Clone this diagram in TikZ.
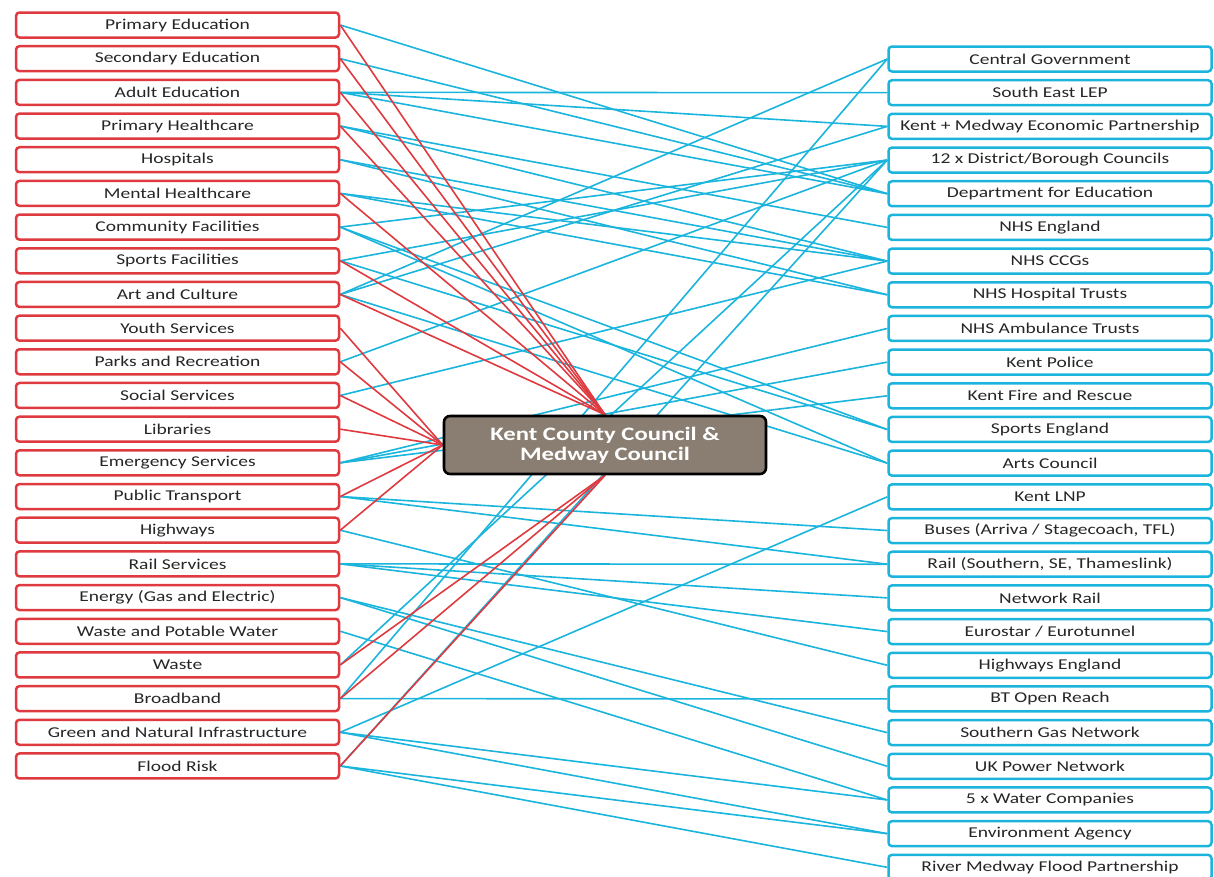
\documentclass[tikz,border=0pt]{standalone}
\usepackage{fontspec}
\setmainfont{Carlito}[FakeStretch=1.3]
\usetikzlibrary{backgrounds}

\definecolor{kccred}{HTML}{DE3A3F}
\definecolor{kccblue}{HTML}{1AB4DC}
\definecolor{kccgrey}{HTML}{8A7E72}

\tikzset{
  service/.style={draw=kccred, line width=2.5pt, rounded corners=3.5pt, fill=white,
    minimum width=323pt, minimum height=25pt, inner sep=0pt, text=black!85,
    font=\fontsize{15}{15}\selectfont},
  partner/.style={service, draw=kccblue},
  council/.style={draw=black, line width=2.6pt, rounded corners=6pt, fill=kccgrey,
    minimum width=322pt, minimum height=58pt, align=center, text=white,
    font=\bfseries\fontsize{19}{20}\selectfont},
  redlink/.style={kccred, line width=1.6pt},
  bluelink/.style={kccblue, line width=1.6pt}
}

\begin{document}
\begin{tikzpicture}[x=1pt,y=-1pt]
  \useasboundingbox (0,0) rectangle (1214,876);

  % services on the left
  \foreach \txt [count=\i] in {Primary Education, Secondary Education, Adult Education,
      Primary Healthcare, Hospitals, Mental Healthcare, Community Facilities,
      Sports Facilities, Art and Culture, Youth Services, Parks and Recreation,
      Social Services, Libraries, Emergency Services, Public Transport, Highways,
      Rail Services, Energy (Gas and Electric), Waste and Potable Water, Waste,
      Broadband, Green and Natural Infrastructure, Flood Risk}
    \node[service] (l\i) at (177.5,{25+(\i-1)*33.68}) {\txt};

  % partners on the right
  \foreach \txt [count=\j] in {Central Government, South East LEP,
      Kent + Medway Economic Partnership, 12 x District/Borough Councils,
      Department for Education, NHS England, NHS CCGs, NHS Hospital Trusts,
      NHS Ambulance Trusts, Kent Police, Kent Fire and Rescue, Sports England,
      Arts Council, Kent LNP, {Buses (Arriva / Stagecoach, TFL)},
      {Rail (Southern, SE, Thameslink)}, Network Rail, Eurostar / Eurotunnel,
      Highways England, BT Open Reach, Southern Gas Network, UK Power Network,
      5 x Water Companies, Environment Agency, River Medway Flood Partnership}
    \node[partner] (r\j) at (1050,{59+(\j-1)*33.68}) {\txt};

  \node[council] (kcc) at (605,445) {Kent County Council \&\\Medway Council};

  \begin{scope}[on background layer]
    \foreach \a/\b in {1/5, 2/5, 3/2, 3/3, 3/5, 4/6, 4/7, 5/7, 5/8, 6/7, 6/8,
        7/4, 7/12, 7/13, 8/4, 8/12, 9/1, 9/3, 9/13, 11/4, 12/7, 14/9, 14/10,
        14/11, 15/15, 15/16, 16/19, 17/16, 17/17, 17/18, 18/21, 18/22, 19/23,
        20/4, 21/1, 21/20, 22/14, 22/23, 22/24, 23/4, 23/24, 23/25}
      \draw[bluelink] (l\a.east) -- (r\b.west);

    \foreach \a in {1,2,3,4,6,8,9}
      \draw[redlink] (l\a.east) -- (kcc.north);
    \foreach \a in {10,11,12,13,15,16}
      \draw[redlink] (l\a.east) -- (kcc.west);
    \foreach \a in {20,21,23}
      \draw[redlink] (l\a.east) -- (kcc.south);
  \end{scope}
\end{tikzpicture}
\end{document}
